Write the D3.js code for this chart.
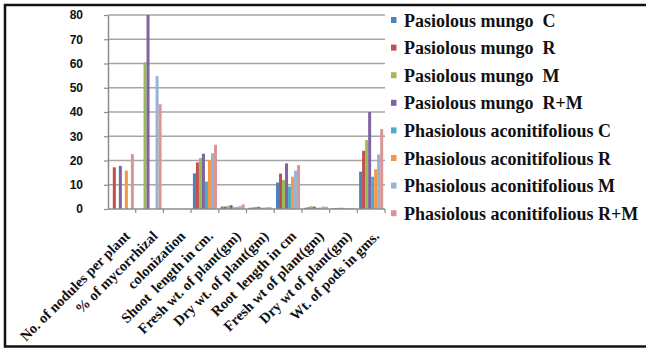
<!DOCTYPE html>
<html>
<head>
<meta charset="utf-8">
<script src="https://cdn.jsdelivr.net/npm/d3@7"></script>
<style>
  body { margin: 0; background: #fff; }
  svg { display: block; }
  .serif { font-family: 'Liberation Serif', 'Times New Roman', serif; font-weight: bold; }
</style>
</head>
<body>
<svg id="chart" width="646" height="349"></svg>
<script>
// categories along x
const categories = [
  'No. of nodules per plant',
  '% of mycorrhizal',
  'colonization',
  'Shoot  length in cm.',
  'Fresh wt. of plant(gm)',
  'Dry wt. of plant(gm)',
  'Root  length in cm',
  'Fresh wt of plant(gm)',
  'Dry wt of plant(gm)',
  'Wt. of pods in gms.',
]

const seriesNames = [
  'Pasiolous mungo  C',
  'Pasiolous mungo  R',
  'Pasiolous mungo  M',
  'Pasiolous mungo  R+M',
  'Phasiolous aconitifolious C',
  'Phasiolous aconitifolious R',
  'Phasiolous aconitifolious M',
  'Phasiolous aconitifolious R+M',
]

// values per series, one per category
const pmC = [0, 0, 0, 14.7, 1.0, 0.5, 10.9, 0.5, 0.3, 15.4]
const pmR = [17.2, 0, 0, 19.2, 1.0, 0.6, 14.6, 0.7, 0.4, 24]
const pmM = [0, 60.5, 0, 21, 1.3, 0.9, 12, 1.2, 0.5, 28.4]
const pmRM = [17.8, 80, 0, 22.8, 1.6, 0.9, 18.8, 1.0, 0.5, 40]
const paC = [0, 0, 0, 11.3, 0.7, 0.5, 9.3, 0.5, 0.3, 13.3]
const paR = [15.8, 0, 0, 20.1, 0.9, 0.6, 13.3, 0.6, 0.4, 16.4]
const paM = [0, 54.8, 0, 23, 1.2, 0.8, 15.8, 1.0, 0.4, 22.5]
const paRM = [22.6, 43.2, 0, 26.5, 1.9, 0.7, 18.1, 0.9, 0.4, 33]

const seriesValues = [pmC, pmR, pmM, pmRM, paC, paR, paM, paRM]

const yTicks = [0, 10, 20, 30, 40, 50, 60, 70, 80]

const colors = [
  '#4F81BD',
  '#C0504D',
  '#9BBB59',
  '#8064A2',
  '#4BACC6',
  '#F79646',
  '#95B3D7',
  '#DA9694',
]

const svg = d3.select('#chart')

// plot area
const plotLeft = 108
const plotRight = 385
const plotTop = 15
const plotBottom = 209

const x0 = d3.scaleBand().domain(categories).range([plotLeft, plotRight])
const x1 = d3
  .scaleBand()
  .domain(seriesNames)
  .range([0, x0.bandwidth()])
  .paddingInner(0)
  .paddingOuter(0.6)
const y = d3.scaleLinear().domain([0, 80]).range([plotBottom, plotTop])

// gridlines
svg
  .append('g')
  .attr('id', 'grid')
  .selectAll('line')
  .data(yTicks.filter((d) => d > 0))
  .join('line')
  .attr('x1', plotLeft)
  .attr('x2', plotRight)
  .attr('y1', (d) => y(d))
  .attr('y2', (d) => y(d))
  .attr('stroke', '#a6a6a6')
  .attr('stroke-width', 1.5)

// bars
const rows = categories.map((c, i) => ({
  category: c,
  values: seriesNames.map((s, j) => ({ key: s, idx: j, value: seriesValues[j][i] })),
}))

svg
  .append('g')
  .attr('id', 'bars')
  .selectAll('g')
  .data(rows)
  .join('g')
  .attr('transform', (d) => `translate(${x0(d.category)},0)`)
  .selectAll('rect')
  .data((d) => d.values.filter((v) => v.value > 0))
  .join('rect')
  .attr('x', (d) => x1(d.key))
  .attr('width', x1.bandwidth())
  .attr('y', (d) => y(d.value))
  .attr('height', (d) => y(0) - y(d.value))
  .attr('fill', (d) => colors[d.idx])

// y axis
const yAxis = svg
  .append('g')
  .attr('id', 'yAxis')
  .attr('transform', `translate(${plotLeft},0)`)
  .call(d3.axisLeft(y).tickValues(yTicks).tickSize(4).tickPadding(21).tickSizeOuter(0))
yAxis.select('.domain').attr('stroke', '#8c8c8c').attr('stroke-width', 1.5)
yAxis.selectAll('.tick line').attr('stroke', '#8c8c8c').attr('stroke-width', 1.2)
yAxis
  .selectAll('.tick text')
  .style('font-family', "'Liberation Sans', Arial, sans-serif")
  .style('font-weight', 'bold')
  .style('font-size', '12px')
  .attr('fill', '#111')

// x axis line + ticks at category boundaries
const xAxis = svg.append('g').attr('id', 'xAxis')
xAxis
  .append('line')
  .attr('x1', plotLeft)
  .attr('x2', plotRight)
  .attr('y1', plotBottom)
  .attr('y2', plotBottom)
  .attr('stroke', '#8c8c8c')
  .attr('stroke-width', 1.5)
xAxis
  .selectAll('line.tk')
  .data(categories)
  .join('line')
  .attr('class', 'tk')
  .attr('x1', (d) => x0(d) + x0.bandwidth())
  .attr('x2', (d) => x0(d) + x0.bandwidth())
  .attr('y1', plotBottom)
  .attr('y2', plotBottom + 4)
  .attr('stroke', '#8c8c8c')
  .attr('stroke-width', 1.2)

xAxis
  .selectAll('text')
  .data(categories)
  .join('text')
  .attr('class', 'serif')
  .attr(
    'transform',
    (d) => `translate(${x0(d) + x0.bandwidth() / 2 + 9},${plotBottom + 28}) rotate(-45)`
  )
  .attr('text-anchor', 'end')
  .style('font-size', '14.5px')
  .attr('fill', '#111')
  .style('white-space', 'pre')
  .text((d) => d)

// legend
const legend = svg
  .append('g')
  .attr('id', 'legend')
  .attr('transform', 'translate(391,20)')

const items = legend
  .selectAll('g')
  .data(seriesNames)
  .join('g')
  .attr('transform', (d, i) => `translate(0,${i * 27.6})`)

items
  .append('rect')
  .attr('x', 0)
  .attr('y', -3)
  .attr('width', 5.5)
  .attr('height', 6)
  .attr('fill', (d, i) => colors[i])

items
  .append('text')
  .attr('class', 'serif')
  .attr('x', 13)
  .attr('y', 6.5)
  .style('font-size', '18px')
  .attr('fill', '#111')
  .style('white-space', 'pre')
  .text((d) => d)

// outer frame
svg
  .append('rect')
  .attr('x', 5)
  .attr('y', 5)
  .attr('width', 660)
  .attr('height', 341.5)
  .attr('fill', 'none')
  .attr('stroke', '#111')
  .attr('stroke-width', 2.5)
</script>
</body>
</html>
